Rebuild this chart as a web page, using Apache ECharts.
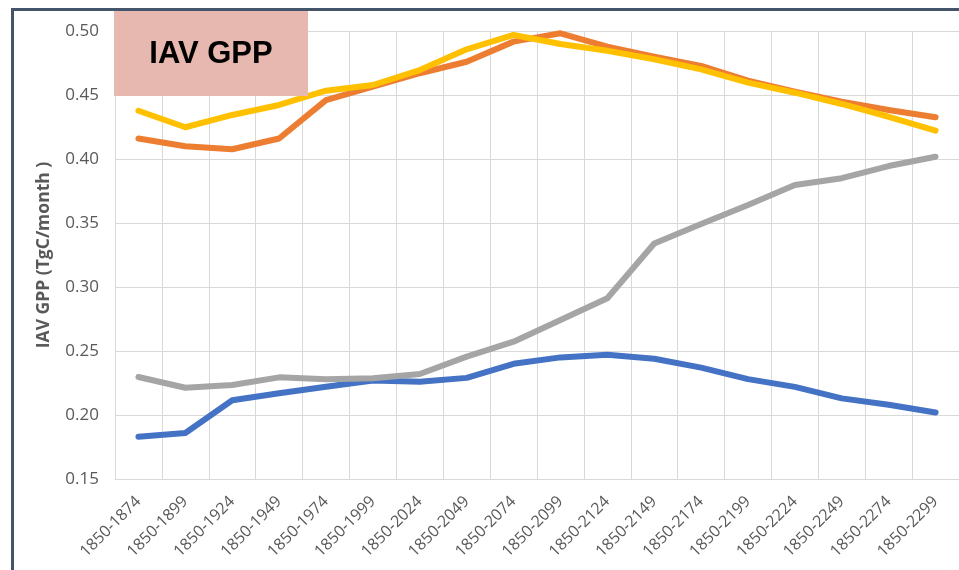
<!DOCTYPE html>
<html>
<head>
<meta charset="utf-8">
<script src="https://cdn.jsdelivr.net/npm/echarts@6/dist/echarts.min.js"></script>
<style>
html,body{margin:0;padding:0;background:#fff;}
#c{width:959px;height:570px;}
</style>
</head>
<body>
<div id="c"></div>
<script>
const categories = ["1850-1874","1850-1899","1850-1924","1850-1949","1850-1974","1850-1999","1850-2024","1850-2049","1850-2074","1850-2099","1850-2124","1850-2149","1850-2174","1850-2199","1850-2224","1850-2249","1850-2274","1850-2299"];
const blueSeries   = [0.183,0.186,0.2115,0.217,0.222,0.227,0.226,0.229,0.240,0.245,0.247,0.244,0.237,0.228,0.222,0.213,0.208,0.202];
const orangeSeries = [0.416,0.410,0.4076,0.416,0.446,0.4565,0.467,0.476,0.4917,0.4982,0.4878,0.480,0.4727,0.4612,0.4526,0.4448,0.4383,0.4326];
const graySeries   = [0.2297,0.2213,0.2234,0.2294,0.228,0.2287,0.232,0.2456,0.2573,0.2742,0.2912,0.334,0.3492,0.364,0.3797,0.385,0.3945,0.4018];
const yellowSeries = [0.4377,0.4248,0.4344,0.4422,0.4534,0.4578,0.4695,0.4857,0.4969,0.4898,0.4846,0.4779,0.470,0.4597,0.4518,0.443,0.433,0.4221];
const yTicks = {min:0.15, max:0.50, interval:0.05};
const titleText = "IAV GPP";
const yAxisTitle = "IAV GPP (TgC/month )";

const FONT = '"Open Sans", "Liberation Sans", Arial, sans-serif';
const chart = echarts.init(document.getElementById('c'), null, {renderer:'canvas'});
function line(name, data, color){
  return {name, type:'line', data, symbol:'none', smooth:false,
    lineStyle:{color, width:6, cap:'round', join:'round'}, itemStyle:{color}, z:3};
}
chart.setOption({
  animation:false,
  backgroundColor:'#fff',
  grid:{left:115, top:31, width:856, height:448, containLabel:false},
  xAxis:{type:'category', data:categories, boundaryGap:true,
    axisLine:{show:true, lineStyle:{color:'#d9d9d9', width:1}},
    axisTick:{show:false},
    splitLine:{show:true, lineStyle:{color:'#d9d9d9', width:1}},
    axisLabel:{rotate:45, interval:0, margin:20, color:'#595959', fontSize:16, fontFamily:FONT}},
  yAxis:{type:'value', min:yTicks.min, max:yTicks.max, interval:yTicks.interval,
    name:yAxisTitle, nameLocation:'middle', nameGap:62, nameRotate:90,
    nameTextStyle:{color:'#595959', fontSize:17.5, fontWeight:'bold', fontFamily:FONT},
    axisLine:{show:false}, axisTick:{show:false},
    splitLine:{show:true, lineStyle:{color:'#d9d9d9', width:1}},
    axisLabel:{margin:16, color:'#595959', fontSize:17, fontFamily:FONT,
      formatter:v=>v.toFixed(2)}},
  series:[
    line('Blue', blueSeries, '#4472C4'),
    line('Orange', orangeSeries, '#ED7D31'),
    line('Gray', graySeries, '#A5A5A5'),
    line('Yellow', yellowSeries, '#FFC000')
  ],
  graphic:[
    {type:'rect', shape:{x:12.5, y:9.5, width:1000, height:700}, style:{fill:null, stroke:'#44546A', lineWidth:3}, z:100},
    {type:'rect', shape:{x:114, y:11, width:194, height:85}, style:{fill:'#E6B8AF'}, z:101},
    {type:'text', x:211, y:54, style:{text:titleText, fill:'#000', font:'bold 31px "Liberation Sans", Arial, sans-serif', textAlign:'center', textVerticalAlign:'middle'}, z:102}
  ]
});
</script>
</body>
</html>
